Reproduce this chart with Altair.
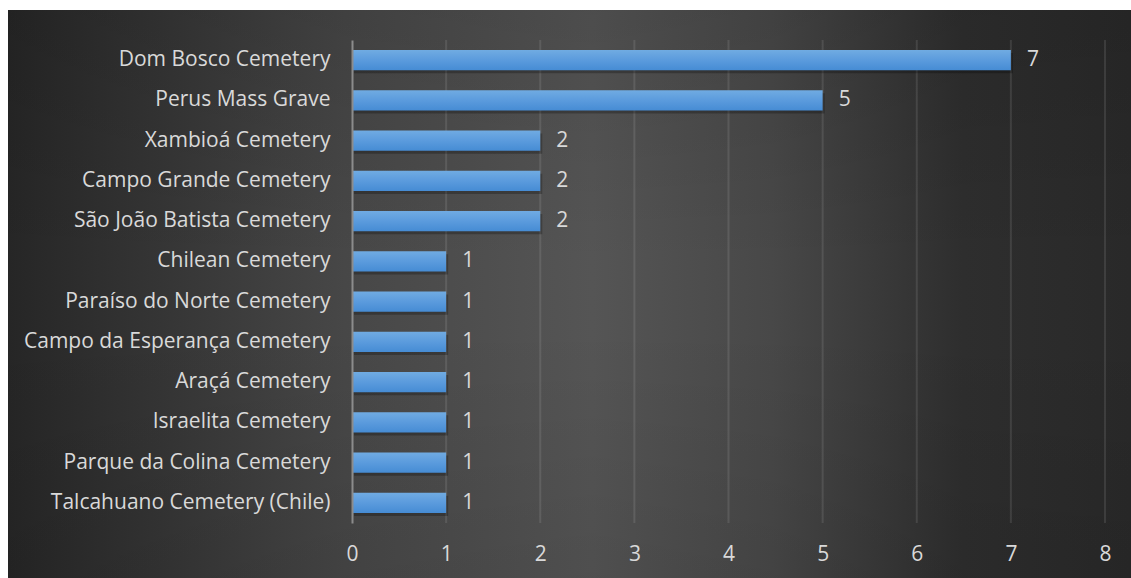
import altair as alt
import pandas as pd

categories = [
    "Dom Bosco Cemetery",
    "Perus Mass Grave",
    "Xambioá Cemetery",
    "Campo Grande Cemetery\u2002",
    "São João Batista Cemetery",
    "Chilean Cemetery",
    "Paraíso do Norte Cemetery",
    "Campo da Esperança Cemetery",
    "Araçá Cemetery",
    "Israelita Cemetery",
    "Parque da Colina Cemetery",
    "Talcahuano Cemetery (Chile)",
]
values = [7, 5, 2, 2, 2, 1, 1, 1, 1, 1, 1, 1]
x_ticks = [1, 2, 3, 4, 5, 6, 7, 8]

df = pd.DataFrame({"cat": categories, "val": values})
grid_df = pd.DataFrame({"val": x_ticks})
one = pd.DataFrame({"k": [0]})

W, H = 753, 483
PL, PT, PR, PB = 352, 40, 26, 55
FONT = "Open Sans"
FS = 21
TXT = "#d9d9d9"

bg = alt.Chart(one).mark_rect(
    color=alt.Gradient(
        gradient="linear", x1=0, x2=1, y1=0, y2=0,
        stops=[
            alt.GradientStop(color="#262626", offset=0),
            alt.GradientStop(color="#474747", offset=0.3),
            alt.GradientStop(color="#555555", offset=0.52),
            alt.GradientStop(color="#484848", offset=0.68),
            alt.GradientStop(color="#2e2e2e", offset=0.85),
            alt.GradientStop(color="#292929", offset=1),
        ],
    )
).encode(
    x=alt.value(-(PL - 8)), x2=alt.value(W + PR),
    y=alt.value(-(PT - 10)), y2=alt.value(H + PB),
)

vshade = alt.Chart(one).mark_rect(
    color=alt.Gradient(
        gradient="linear", x1=0, x2=0, y1=0, y2=1,
        stops=[
            alt.GradientStop(color="rgba(0,0,0,0.1)", offset=0),
            alt.GradientStop(color="rgba(0,0,0,0)", offset=0.45),
            alt.GradientStop(color="rgba(0,0,0,0)", offset=0.55),
            alt.GradientStop(color="rgba(0,0,0,0.08)", offset=1),
        ],
    )
).encode(
    x=alt.value(-(PL - 8)), x2=alt.value(W + PR),
    y=alt.value(-(PT - 10)), y2=alt.value(H + PB),
)

yscale = alt.Scale(domain=categories, paddingInner=0.5, paddingOuter=0.25)
xscale = alt.Scale(domain=[0, 8], nice=False)

yaxis = alt.Axis(
    domainColor="#8c8c8c", domainWidth=2, ticks=False,
    labelFont=FONT, labelFontSize=FS, labelColor=TXT,
    labelPadding=22, labelLimit=400, grid=False, zindex=2,
)
xaxis = alt.Axis(
    values=[0, 1, 2, 3, 4, 5, 6, 7, 8], domain=False, ticks=False,
    grid=False, labelFont=FONT, labelFontSize=FS, labelColor=TXT,
    labelPadding=20, labelFlush=False, format="d", zindex=2,
)

grid = alt.Chart(grid_df).mark_rule(color="#ffffff", opacity=0.1, strokeWidth=2).encode(
    x=alt.X("val:Q", scale=xscale, title=None, axis=xaxis),
    y=alt.value(0), y2=alt.value(H),
)

base = alt.Chart(df)

shadow = base.mark_bar(color="black", opacity=0.25, yOffset=3, xOffset=2).encode(
    y=alt.Y("cat:N", scale=yscale, sort=categories, title=None, axis=yaxis),
    x=alt.X("val:Q", scale=xscale, title=None, axis=xaxis),
)

bars = base.mark_bar(
    color=alt.Gradient(
        gradient="linear", x1=0, x2=0, y1=0, y2=1,
        stops=[
            alt.GradientStop(color="#70abe2", offset=0),
            alt.GradientStop(color="#5b9bdd", offset=0.5),
            alt.GradientStop(color="#468cd4", offset=1),
        ],
    )
).encode(
    y=alt.Y("cat:N", scale=yscale, sort=categories, title=None, axis=yaxis),
    x=alt.X("val:Q", scale=xscale, title=None, axis=xaxis),
)

labels = base.mark_text(
    align="left", baseline="middle", dx=16, font=FONT, fontSize=FS, color=TXT
).encode(
    y=alt.Y("cat:N", scale=yscale, sort=categories, title=None, axis=yaxis),
    x=alt.X("val:Q", scale=xscale, title=None, axis=xaxis),
    text="val:Q",
)

chart = alt.layer(bg, vshade, grid, shadow, bars, labels).properties(
    width=W, height=H,
    padding={"left": PL, "top": PT, "right": PR, "bottom": PB},
    autosize=alt.AutoSizeParams(type="none"),
    background="white",
).configure_view(stroke=None)

chart.save("out.html", embed_options={"renderer": "svg", "actions": False})
